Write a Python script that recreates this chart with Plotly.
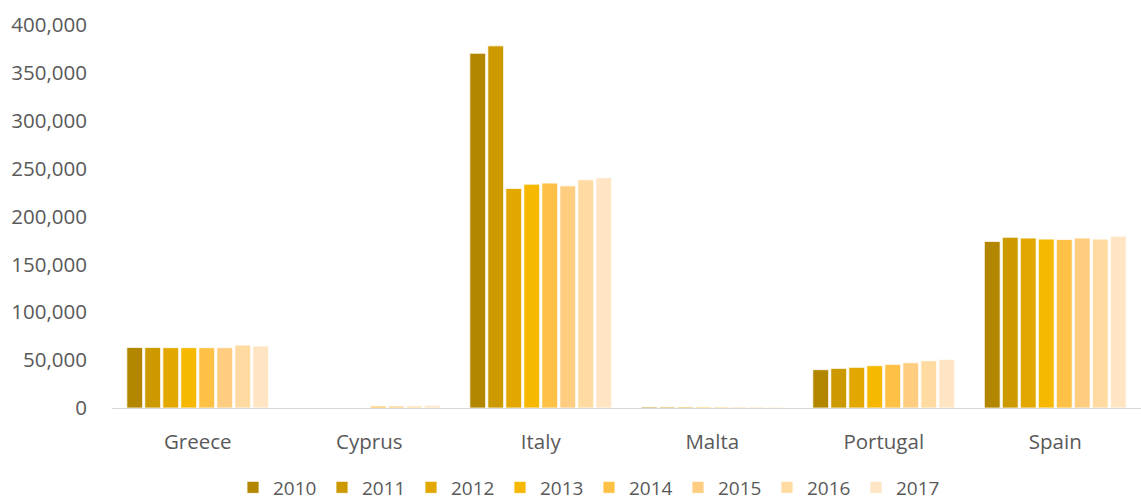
import plotly.graph_objects as go

countries = ["Greece", "Cyprus", "Italy", "Malta", "Portugal", "Spain"]
years = ["2010", "2011", "2012", "2013", "2014", "2015", "2016", "2017"]

greece = [63300, 63300, 63000, 63000, 63000, 63000, 65800, 64800]
cyprus = [None, None, None, None, 2000, 2100, 2100, 2800]
italy = [370500, 378200, 229300, 233800, 234900, 232000, 238300, 240400]
malta = [1100, 1100, 1100, 1000, 1000, 1000, 1000, 1000]
portugal = [40000, 41400, 42500, 44200, 45600, 47300, 49400, 50800]
spain = [174000, 178300, 177500, 176400, 176100, 177500, 176400, 179500]

colors = ["#B38600", "#CC9A00", "#E2A800", "#F6B800", "#FFC145", "#FFCD80", "#FFDBA2", "#FFE5C3"]

series = [greece, cyprus, italy, malta, portugal, spain]

fig = go.Figure()
for i, yr in enumerate(years):
    fig.add_trace(go.Bar(
        name=yr,
        x=countries,
        y=[s[i] for s in series],
        marker=dict(color=colors[i], line=dict(color="rgba(255,255,255,0.8)", width=1)),
    ))

font_family = "Open Sans, Lato, sans-serif"
fig.update_layout(
    barmode="group",
    bargap=0.16,
    bargroupgap=0.12,
    width=1141,
    height=501,
    margin=dict(l=112, r=0, t=25, b=93, autoexpand=False),
    paper_bgcolor="white",
    plot_bgcolor="white",
    font=dict(family=font_family, color="#595959", size=20),
    xaxis=dict(
        showline=True, linecolor="#D9D9D9", linewidth=1, automargin=False,
        ticks="", tickfont=dict(size=20.5, color="#595959"),
        ticklabelstandoff=15,
    ),
    yaxis=dict(
        range=[0, 400000], tickvals=[0, 50000, 100000, 150000, 200000, 250000, 300000, 350000, 400000],
        tickformat=",d", showgrid=False, zeroline=False, showline=False, automargin=False,
        tickfont=dict(size=20.5, color="#595959"), ticklabelstandoff=24,
    ),
    legend=dict(
        orientation="h", xref="container", x=233 / 1141, xanchor="left",
        yref="container", y=1 - 487.5 / 501, yanchor="middle",
        font=dict(size=19, color="#595959"), itemwidth=30,
        entrywidth=44, entrywidthmode="pixels",
        traceorder="normal",
    ),
)

fig.write_html(
    "out.html",
    config={"displayModeBar": False},
    post_script="document.body.style.margin='0';document.body.style.overflow='hidden';",
)
